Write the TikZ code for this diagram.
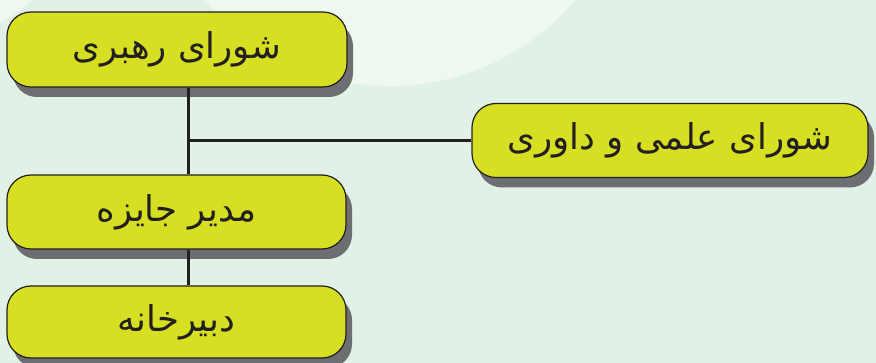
\documentclass[tikz,border=0pt]{standalone}
\usepackage{fontspec}
\newfontfamily\farsi[Script=Arabic]{DejaVu Sans}
\TeXXeTstate=1
\usetikzlibrary{shadows}
\definecolor{bgpale}{HTML}{E1F1E6}
\definecolor{bglight}{HTML}{EEF8F1}
\definecolor{boxlime}{HTML}{D7DF23}
\definecolor{boxline}{HTML}{231F20}
\definecolor{boxshade}{HTML}{6D6E71}
\tikzset{
  orgbox/.style={draw=boxline, line width=1.2pt, fill=boxlime, rounded corners=24pt,
    text=boxline, font=\farsi\fontsize{35.5}{40}\selectfont, inner sep=0pt,
    drop shadow={shadow xshift=6pt, shadow yshift=-10pt, fill=boxshade, opacity=1}},
  link/.style={draw=boxline, line width=3pt}
}
\begin{document}
\begin{tikzpicture}[x=1pt,y=1pt]

\useasboundingbox (0,0) rectangle (876,-363);
\fill[bgpale] (0,0) rectangle (876,-363);
\begin{scope}
\clip (0,0) rectangle (876,-363);
\fill[bglight] (390,156) circle[radius=242];
\fill[bglight] (-100,150) circle[radius=200];
\end{scope}

\begin{scope}[every node/.style={orgbox}]
\node(boss) at(177,-49.5) [minimum width=340pt, minimum height=75pt] {\beginR شورای رهبری\endR};
\node(head) at(176.5,-212) [minimum width=339pt, minimum height=74pt] {\beginR مدیر جایزه\endR};
\node(office) at(176.5,-322) [minimum width=339pt, minimum height=72pt] {\beginR دبیرخانه\endR};
\node(jury) at(670,-140.5) [minimum width=396pt, minimum height=74pt] {\beginR شورای علمی و داوری\endR};
\end{scope}

\coordinate(trunk) at(188,-140.5);

\draw[link] 
(trunk |- boss.south) --
(trunk |- head.north)
;
\draw[link] 
(trunk) --
(trunk -| jury.west)
;
\draw[link] 
(trunk |- head.south) --
(trunk |- office.north)
;

\end{tikzpicture}
\end{document}
